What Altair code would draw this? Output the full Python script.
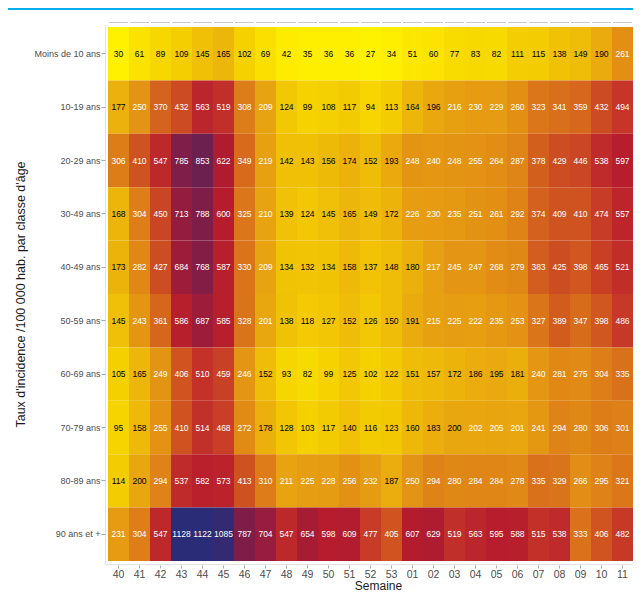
import altair as alt
import pandas as pd

weeks = ["40", "41", "42", "43", "44", "45", "46", "47", "48", "49", "50", "51", "52", "53",
         "01", "02", "03", "04", "05", "06", "07", "08", "09", "10", "11"]
ages = ["Moins de 10 ans", "10-19 ans", "20-29 ans", "30-49 ans", "40-49 ans",
        "50-59 ans", "60-69 ans", "70-79 ans", "80-89 ans", "90 ans et +"]

v_0_9 = [30, 61, 89, 109, 145, 165, 102, 69, 42, 35, 36, 36, 27, 34, 51, 60, 77, 83, 82, 111, 115, 138, 149, 190, 261]
v_10_19 = [177, 250, 370, 432, 563, 519, 308, 209, 124, 99, 108, 117, 94, 113, 164, 196, 216, 230, 229, 260, 323, 341, 359, 432, 494]
v_20_29 = [306, 410, 547, 785, 853, 622, 349, 219, 142, 143, 156, 174, 152, 193, 248, 240, 248, 255, 264, 287, 378, 429, 446, 538, 597]
v_30_39 = [168, 304, 450, 713, 788, 600, 325, 210, 139, 124, 145, 165, 149, 172, 226, 230, 235, 251, 261, 292, 374, 409, 410, 474, 557]
v_40_49 = [173, 282, 427, 684, 768, 587, 330, 209, 134, 132, 134, 158, 137, 148, 180, 217, 245, 247, 268, 279, 383, 425, 398, 465, 521]
v_50_59 = [145, 243, 361, 586, 687, 585, 328, 201, 138, 118, 127, 152, 126, 150, 191, 215, 225, 222, 235, 253, 327, 389, 347, 398, 486]
v_60_69 = [105, 165, 249, 406, 510, 459, 246, 152, 93, 82, 99, 125, 102, 122, 151, 157, 172, 186, 195, 181, 240, 281, 275, 304, 335]
v_70_79 = [95, 158, 255, 410, 514, 468, 272, 178, 128, 103, 117, 140, 116, 123, 160, 183, 200, 202, 205, 201, 241, 294, 280, 306, 301]
v_80_89 = [114, 200, 294, 537, 582, 573, 413, 310, 211, 225, 228, 256, 232, 187, 250, 294, 280, 284, 284, 278, 335, 329, 266, 295, 321]
v_90 = [231, 304, 547, 1128, 1122, 1085, 787, 704, 547, 654, 598, 609, 477, 405, 607, 629, 519, 563, 595, 588, 515, 538, 333, 406, 482]

rows = [v_0_9, v_10_19, v_20_29, v_30_39, v_40_49, v_50_59, v_60_69, v_70_79, v_80_89, v_90]

df = pd.DataFrame([
    {"age": a, "week": w, "value": v}
    for a, vals in zip(ages, rows) for w, v in zip(weeks, vals)
])
wk = pd.DataFrame({"week": weeks})
one = pd.DataFrame({"a": [0]})

color_domain = [27, 100, 200, 300, 400, 500, 600, 700, 800, 900, 1000, 1128]
color_range = ["#FFF200", "#F5D200", "#E9A70F", "#DE8018", "#D0561F", "#C43329",
               "#B61C2D", "#981C3C", "#7A1E4A", "#5E2256", "#452662", "#2A2C78"]

W = 525
H = 534

xscale = alt.Scale(domain=weeks, paddingInner=0, paddingOuter=0)
yscale = alt.Scale(domain=ages, paddingInner=0, paddingOuter=0)

x_axis = alt.Axis(title="Semaine", labelFontSize=10.5, labelColor="#4d4d4d", labelAngle=0,
                  tickColor="#aaaaaa", tickSize=3, offset=4, domain=False, labelPadding=1,
                  titleFontSize=12, titleColor="#1a1a1a", titleFontWeight="normal", titlePadding=1,
                  titleX=270, grid=False, labelFont="Liberation Sans", titleFont="Liberation Sans")
y_axis = alt.Axis(title="Taux d'incidence /100 000 hab. par classe d'âge", labelFontSize=9,
                  labelColor="#4d4d4d", tickColor="#aaaaaa", tickSize=4, offset=3, domain=False,
                  labelPadding=1, titleFontSize=12.5, titleColor="#1a1a1a", titleFontWeight="normal",
                  titlePadding=6, grid=False, labelFont="Liberation Sans", titleFont="Liberation Sans")

rect = alt.Chart(df).mark_rect().encode(
    x=alt.X("week:N", sort=weeks, scale=xscale, axis=x_axis),
    y=alt.Y("age:N", sort=ages, scale=yscale, axis=y_axis),
    color=alt.Color("value:Q", scale=alt.Scale(domain=color_domain, range=color_range,
                                                interpolate="rgb"), legend=None),
)

text = alt.Chart(df).mark_text(fontSize=8.5, font="Liberation Sans").encode(
    x=alt.X("week:N", sort=weeks, scale=xscale),
    y=alt.Y("age:N", sort=ages, scale=yscale),
    text=alt.Text("value:Q"),
    color=alt.condition(alt.datum.value > 200, alt.value("white"), alt.value("black")),
)

top_seg = alt.Chart(wk).mark_bar(size=19, color="#c8c8c8").encode(
    x=alt.X("week:N", sort=weeks, scale=xscale),
    y=alt.value(-5), y2=alt.value(-4),
)

left_frame = alt.Chart(one).mark_rule(color="#e3e3e3", strokeWidth=1).encode(
    x=alt.value(-2.5), y=alt.value(-2), y2=alt.value(H + 3.5)
)
bottom_frame = alt.Chart(one).mark_rule(color="#e3e3e3", strokeWidth=1).encode(
    x=alt.value(-2.5), x2=alt.value(W), y=alt.value(H + 3.5)
)
blue_line = alt.Chart(one).mark_rule(color="#00AEEF", strokeWidth=2).encode(
    x=alt.value(-100), x2=alt.value(W), y=alt.value(-18)
)

chart = alt.layer(rect, text, top_seg, left_frame, bottom_frame, blue_line).properties(
    width=W, height=H,
    padding={"left": 100, "top": 19, "right": 0, "bottom": 31},
    autosize=alt.AutoSizeParams(type="none"),
).configure_view(stroke=None)

chart.save("out.html", embed_options={"renderer": "svg", "actions": False})
